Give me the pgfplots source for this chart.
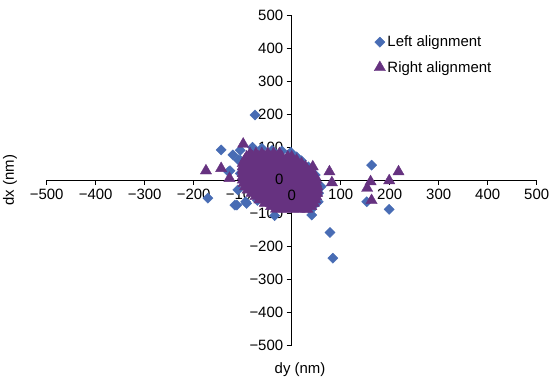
\documentclass[border=0pt]{standalone}
\usepackage{fontspec}
\setmainfont{Liberation Sans}
\usepackage{pgfplots}
\pgfplotsset{compat=1.18}
\definecolor{leftblue}{RGB}{72,108,180}
\definecolor{rightpurple}{RGB}{102,50,128}
\begin{document}
\begin{tikzpicture}
\begin{axis}[
  scale only axis,
  width=490bp, height=330bp,
  xmin=-500, xmax=500, ymin=-500, ymax=500,
  axis lines=middle,
  axis line style={-, black, line width=0.6pt},
  axis on top,
  hide obscured x ticks=false,
  hide obscured y ticks=false,
  tick align=outside,
  major tick length=5bp,
  tick style={black, line width=0.6pt},
  xtick={-500,-400,-300,-200,-100,0,100,200,300,400,500},
  xticklabels={−500,−400,−300,−200,−100,0,100,200,300,400,500},
  ytick={-500,-400,-300,-200,-100,0,100,200,300,400,500},
  yticklabels={−500,−400,−300,−200,−100,0,100,200,300,400,500},
  tick label style={font=\fontsize{15}{17}\selectfont, black},
  xticklabel style={yshift=-1bp},
  label style={font=\fontsize{15}{17}\selectfont},
  xlabel={dy (nm)},
  ylabel={dx (nm)},
  xlabel style={at={(rel axis cs:0.517,-0.076)}, anchor=center},
  ylabel style={at={(rel axis cs:-0.075,0.5)}, anchor=center, rotate=90},
  legend style={draw=none, fill=none, at={(rel axis cs:0.668,0.943)}, anchor=north west,
    font=\fontsize{15}{17}\selectfont, row sep=9bp, inner sep=0pt},
  legend cell align=left,
  clip=false,
]
\addplot[only marks, mark=square*, mark size=3.6bp, mark options={rotate=45, fill=leftblue, draw=leftblue}] coordinates {
(-144,91) (-120,76) (-105,60) (-126,28) (-171,-55) (-116,-76) (-94,-66) (-70,-62)
(-35,-108) (-80,99) (-75,197) (163,45) (153,-66) (199,-89) (39,-91) (50,-70)
(78,-159) (84,-237) (-2,84) (20,58) (48,15) (34,40) (-61,96) (-105,90) (-105,20)
(-110,-30) (55,-40) (60,-20) (-129,25) (-109,61) (54,-66) (41,-106) (-92,-71) (-112,-76)
(10,70) (30,28) (-40,90) (-20,88)
};
\addlegendentry{Left alignment}
\addplot[only marks, mark=triangle*, mark size=6.5bp, mark options={fill=rightpurple, draw=rightpurple}] coordinates {
(-175,28) (-144,35) (-127,5) (-99,109) (43,40) (77,25) (82,-8) (154,-25) (161,-5)
(163,-62) (199,-2) (218,25)
(-85,80) (-73,80) (-61,80) (-49,80) (-37,80) (-25,80)
(-92,70) (-80,70) (-68,70) (-56,70) (-44,70) (-32,70) (-20,70) (-8,70) (0,70)
(-96,60) (-84,60) (-72,60) (-60,60) (-48,60) (-36,60) (-24,60) (-12,60) (0,60) (10,60)
(-100,50) (-88,50) (-76,50) (-64,50) (-52,50) (-40,50) (-28,50) (-16,50) (-4,50) (8,50) (20,50)
(-100,40) (-88,40) (-76,40) (-64,40) (-52,40) (-40,40) (-28,40) (-16,40) (-4,40) (8,40) (20,40) (28,40)
(-100,30) (-88,30) (-76,30) (-64,30) (-52,30) (-40,30) (-28,30) (-16,30) (-4,30) (8,30) (20,30) (32,30)
(-100,20) (-88,20) (-76,20) (-64,20) (-52,20) (-40,20) (-28,20) (-16,20) (-4,20) (8,20) (20,20) (32,20) (42,20)
(-100,10) (-88,10) (-76,10) (-64,10) (-52,10) (-40,10) (-28,10) (-16,10) (-4,10) (8,10) (20,10) (32,10) (44,10) (48,10)
(-100,0) (-88,0) (-76,0) (-64,0) (-52,0) (-40,0) (-28,0) (-16,0) (-4,0) (8,0) (20,0) (32,0) (44,0) (50,0)
(-98,-10) (-86,-10) (-74,-10) (-62,-10) (-50,-10) (-38,-10) (-26,-10) (-14,-10) (-2,-10) (10,-10) (22,-10) (34,-10) (46,-10) (50,-10)
(-95,-20) (-83,-20) (-71,-20) (-59,-20) (-47,-20) (-35,-20) (-23,-20) (-11,-20) (1,-20) (13,-20) (25,-20) (37,-20) (49,-20) (52,-20)
(-90,-30) (-78,-30) (-66,-30) (-54,-30) (-42,-30) (-30,-30) (-18,-30) (-6,-30) (6,-30) (18,-30) (30,-30) (42,-30) (52,-30)
(-82,-40) (-70,-40) (-58,-40) (-46,-40) (-34,-40) (-22,-40) (-10,-40) (2,-40) (14,-40) (26,-40) (38,-40) (50,-40) (52,-40)
(-74,-50) (-62,-50) (-50,-50) (-38,-50) (-26,-50) (-14,-50) (-2,-50) (10,-50) (22,-50) (34,-50) (46,-50) (50,-50)
(-66,-60) (-54,-60) (-42,-60) (-30,-60) (-18,-60) (-6,-60) (6,-60) (18,-60) (30,-60) (42,-60) (48,-60)
(-55,-70) (-43,-70) (-31,-70) (-19,-70) (-7,-70) (5,-70) (17,-70) (29,-70) (41,-70) (45,-70)
(-42,-80) (-30,-80) (-18,-80) (-6,-80) (6,-80) (18,-80) (30,-80) (40,-80)
(-32,-88) (-20,-88) (-8,-88) (4,-88) (16,-88) (28,-88) (32,-88)
};
\addlegendentry{Right alignment}
\coordinate (orig) at (axis cs:0,0);
\path (rel axis cs:0,0) ++(-46.7bp,-38bp) coordinate (bbl);
\path (rel axis cs:1,1) ++(13.3bp,15bp) coordinate (btr);
\end{axis}
\node[anchor=east, inner sep=0pt, text=black, font=\fontsize{15}{17}\selectfont] at ([xshift=-8bp,yshift=1bp]orig) {0};
\node[anchor=north, inner sep=0pt, text=black, font=\fontsize{15}{17}\selectfont] at ([yshift=-10bp]orig) {0};
\pgfresetboundingbox
\path[use as bounding box] (bbl) rectangle (btr);
\end{tikzpicture}
\end{document}
